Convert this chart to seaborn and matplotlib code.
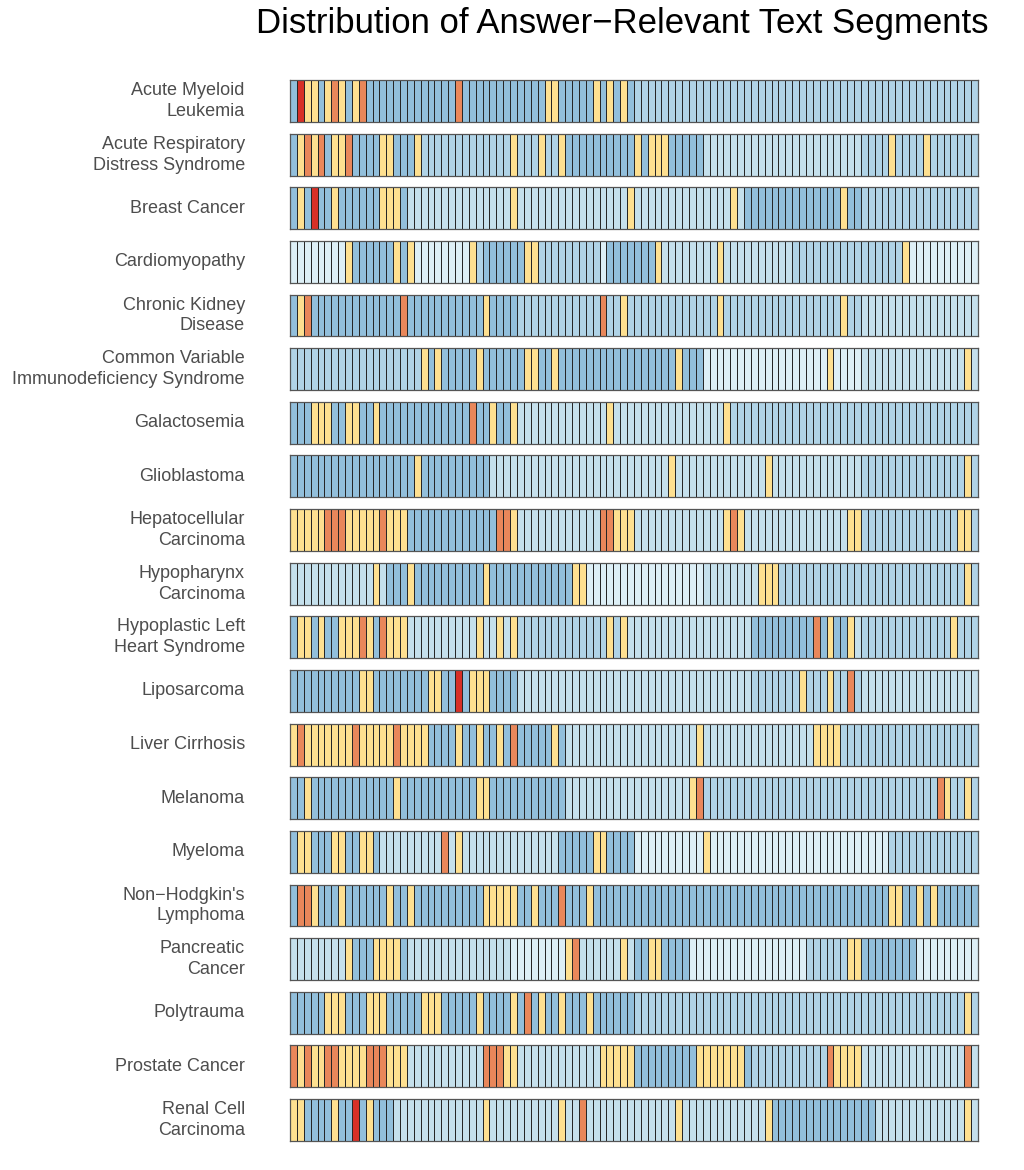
import numpy as np
import pandas as pd
import matplotlib
matplotlib.use("Agg")
import matplotlib.pyplot as plt
import seaborn as sns
from matplotlib.colors import ListedColormap

sns.set_style("white")
plt.rcParams['font.family'] = ['Liberation Sans', 'DejaVu Sans']

# disease labels, top to bottom
diseases = [
    "Acute Myeloid\nLeukemia",
    "Acute Respiratory\nDistress Syndrome",
    "Breast Cancer",
    "Cardiomyopathy",
    "Chronic Kidney\nDisease",
    "Common Variable\nImmunodeficiency Syndrome",
    "Galactosemia",
    "Glioblastoma",
    "Hepatocellular\nCarcinoma",
    "Hypopharynx\nCarcinoma",
    "Hypoplastic Left\nHeart Syndrome",
    "Liposarcoma",
    "Liver Cirrhosis",
    "Melanoma",
    "Myeloma",
    "Non\u2212Hodgkin's\nLymphoma",
    "Pancreatic\nCancer",
    "Polytrauma",
    "Prostate Cancer",
    "Renal Cell\nCarcinoma",
]

# segment classes, run-length coded: <count><class>, 100 segments per disease
# a-d = blue shades (dark to pale), y = yellow, o = orange, r = red
segments = [
    "1a 1r 2y 1a 1y 1o 1y 1a 1y 1o 13a 1o 12a 2y 5a 1y 1a 1y 1a 1y 1a 50b",
    "1a 1y 1o 1y 1o 1a 2y 1o 4a 2y 3a 1y 13b 1y 3b 1y 2b 1y 10a 1y 1a 3y 5a 23c 4b 1y 4b 1y 7b",
    "1a 1y 1a 1r 2a 1y 6a 3y 1a 15c 1y 16c 1y 14c 1y 1c 14a 1y 2a 17b",
    "8d 1y 6a 1y 1a 1y 8d 1y 1b 6a 2y 9b 1d 7a 1y 8c 1y 10c 16b 1y 10d",
    "1a 1y 1o 13a 1o 11a 1y 4a 12b 1o 2b 1y 13b 1y 17b 1y 2b 17c",
    "19b 1y 1a 1y 5a 1y 6a 2y 2a 1y 17a 1y 3a 18d 1y 4d 15c 1y 1c",
    "3a 3y 2a 2y 2a 1y 13a 1o 2a 1y 2a 1y 13c 1y 16c 1y 36b",
    "18a 1y 10a 26c 1y 13c 1y 13c 15b 1y 1b",
    "5y 3o 5y 1o 3y 13a 2o 1y 12c 2o 3y 13c 1y 1o 1y 15c 2y 14b 2y 1b",
    "12c 1y 1c 3a 1y 10a 1y 12a 2y 17d 8c 3y 27b 1y 1b",
    "1a 2y 1a 1y 2a 3y 1o 1y 1a 1o 3y 10c 1y 2c 1y 1c 1y 13b 1y 1b 1y 18c 9a 1o 1a 1y 2a 1y 1c 13b 1y 3b",
    "10a 2y 8a 2y 2a 1r 1a 3y 4a 34c 7b 1y 3b 1y 2b 1o 1b 17c",
    "1y 1o 7y 1o 5y 1o 4y 4a 1y 2a 1y 2a 1y 1a 1o 5a 1y 1a 19c 1y 16c 4y 20b",
    "2a 1y 12a 1y 11a 2y 11a 18c 1y 1o 34b 1o 1y 2b 1y 1b",
    "1a 2y 3a 2y 2a 2y 1a 9c 1o 1c 1y 14c 5a 2y 4a 10d 1y 26d 13b",
    "1a 2o 1y 3a 1y 6a 1y 2a 1y 10a 5y 2a 1y 3a 1o 3a 1y 43a 2y 2a 1y 1a 1y 6a",
    "8c 1y 3a 4y 1a 15c 8d 1y 1o 6c 1y 1c 2a 2y 4a 17d 6b 2y 8a 9d",
    "5a 3y 3a 3y 5a 3y 5a 1y 4a 1y 1a 1o 1a 1y 2a 1y 3a 1y 6a 48b 1y 1b",
    "1o 1y 1o 2y 2o 4y 3o 3y 11c 3o 2y 12c 5y 9a 7y 1a 11b 1o 4y 15c 1o 1c",
    "2y 4a 1y 2a 1r 1a 1y 3a 13c 1y 10c 1y 2c 1o 13c 1y 12c 1y 15a 13c 1y 1c",
]

classes = ["a", "b", "c", "d", "y", "o", "r"]
class_colors = ["#92bfdb", "#b0d3e6", "#c5e0ec", "#ddeff6", "#fee090", "#e9875a", "#d73027"]


def expand(rle):
    out = []
    for tok in rle.split():
        out += [classes.index(tok[-1])] * int(tok[:-1])
    return out


rows = [expand(s) for s in segments]
for name, r in zip(diseases, rows):
    if len(r) != 100:
        print("bad length", name, len(r))

cmap = ListedColormap(class_colors)

fig, axes = plt.subplots(len(diseases), 1, figsize=(10.24, 11.7), dpi=100)
fig.subplots_adjust(left=0.2832, right=0.955, top=0.9316, bottom=0.0248, hspace=0.28)

for ax, name, r in zip(axes, diseases, rows):
    df = pd.DataFrame([r])
    sns.heatmap(df, ax=ax, cmap=cmap, vmin=-0.5, vmax=len(classes) - 0.5,
                cbar=False, linewidths=0.6, linecolor="#262626",
                xticklabels=False, yticklabels=False)
    for sp in ax.spines.values():
        sp.set_visible(True)
        sp.set_color("#555555")
        sp.set_linewidth(0.9)
    ax.set_yticks([0.5])
    ax.set_yticklabels([name], rotation=0, ha="right", va="center",
                       fontsize=13, color="#4d4d4d", linespacing=1.3)
    ax.tick_params(axis="y", left=False, pad=29)
    ax.set_xlabel("")
    ax.set_ylabel("")

fig.suptitle("Distribution of Answer\u2212Relevant Text Segments",
             x=0.608, y=0.994, fontsize=25, color="black")

fig.savefig("out.png", dpi=100)
